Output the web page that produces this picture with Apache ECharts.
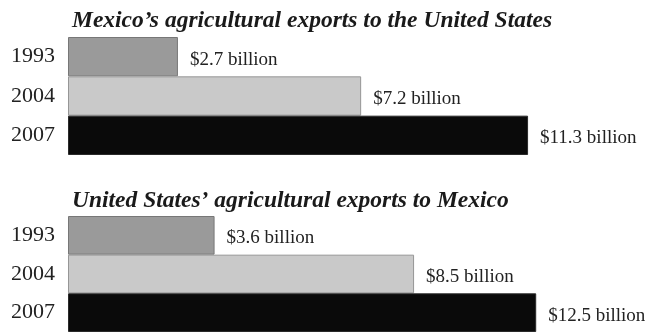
<!DOCTYPE html>
<html>
<head>
<meta charset="utf-8">
<script src="https://cdn.jsdelivr.net/npm/echarts@6/dist/echarts.min.js"></script>
<style>
  html, body { margin: 0; padding: 0; background: #fff; }
  #chart { width: 650px; height: 332px; }
</style>
</head>
<body>
<div id="chart"></div>
<script>
// Agricultural trade between Mexico and the United States, billions of US dollars
const years = ['1993', '2004', '2007'];
const mexicoToUS = [2.7, 7.2, 11.3];
const usToMexico = [3.6, 8.5, 12.5];
const panelTitles = [
  'Mexico\u2019s agricultural exports to the United States',
  'United States\u2019 agricultural exports to Mexico'
];

const serif = '"Liberation Serif", "DejaVu Serif", serif';
const fills = ['#9a9a9a', '#c9c9c9', '#0a0a0a'];
const borders = ['#777777', '#969696', '#2a2a2a'];

function styledData(values) {
  return values.map((v, i) => ({
    value: v,
    itemStyle: { color: fills[i], borderColor: borders[i], borderWidth: 1 }
  }));
}

function valueAxis(gridIndex, max, extra) {
  return Object.assign({
    type: 'value', gridIndex: gridIndex, min: 0, max: max,
    show: false, splitLine: { show: false }
  }, extra || {});
}

function categoryAxis(gridIndex) {
  return {
    type: 'category', gridIndex: gridIndex, data: years, inverse: true,
    axisLine: { show: false }, axisTick: { show: false },
    axisLabel: { fontFamily: serif, fontSize: 22, color: '#222', margin: 13 }
  };
}

function barSeries(idx, values) {
  return {
    type: 'bar', xAxisIndex: idx, yAxisIndex: idx,
    barCategoryGap: '0%', barWidth: '100%',
    data: styledData(values),
    silent: true,
    label: {
      show: true, position: 'right', distance: 12, offset: [0, 3],
      fontFamily: serif, fontSize: 19, color: '#222',
      formatter: p => '$' + p.value.toFixed(1) + ' billion'
    }
  };
}

const chart = echarts.init(document.getElementById('chart'), null, { renderer: 'canvas' });
chart.setOption({
  animation: false,
  backgroundColor: '#fff',
  title: panelTitles.map((t, i) => ({
    text: t, left: 68, top: i === 0 ? 9 : 189, padding: [0, 4],
    textStyle: { fontFamily: serif, fontStyle: 'italic', fontWeight: 'bold', fontSize: 23.5, color: '#1a1a1a' }
  })),
  grid: [
    { left: 68, top: 37, width: 570, height: 118 },
    { left: 68, top: 216, width: 570, height: 118 }
  ],
  xAxis: [
    valueAxis(0, 14),
    // the longest bar of the second panel runs through a hidden one-unit break
    valueAxis(1, 15, { breaks: [{ start: 9.5, end: 10.5, gap: 0 }], breakArea: { show: false } })
  ],
  yAxis: [categoryAxis(0), categoryAxis(1)],
  series: [barSeries(0, mexicoToUS), barSeries(1, usToMexico)]
});
</script>
</body>
</html>
